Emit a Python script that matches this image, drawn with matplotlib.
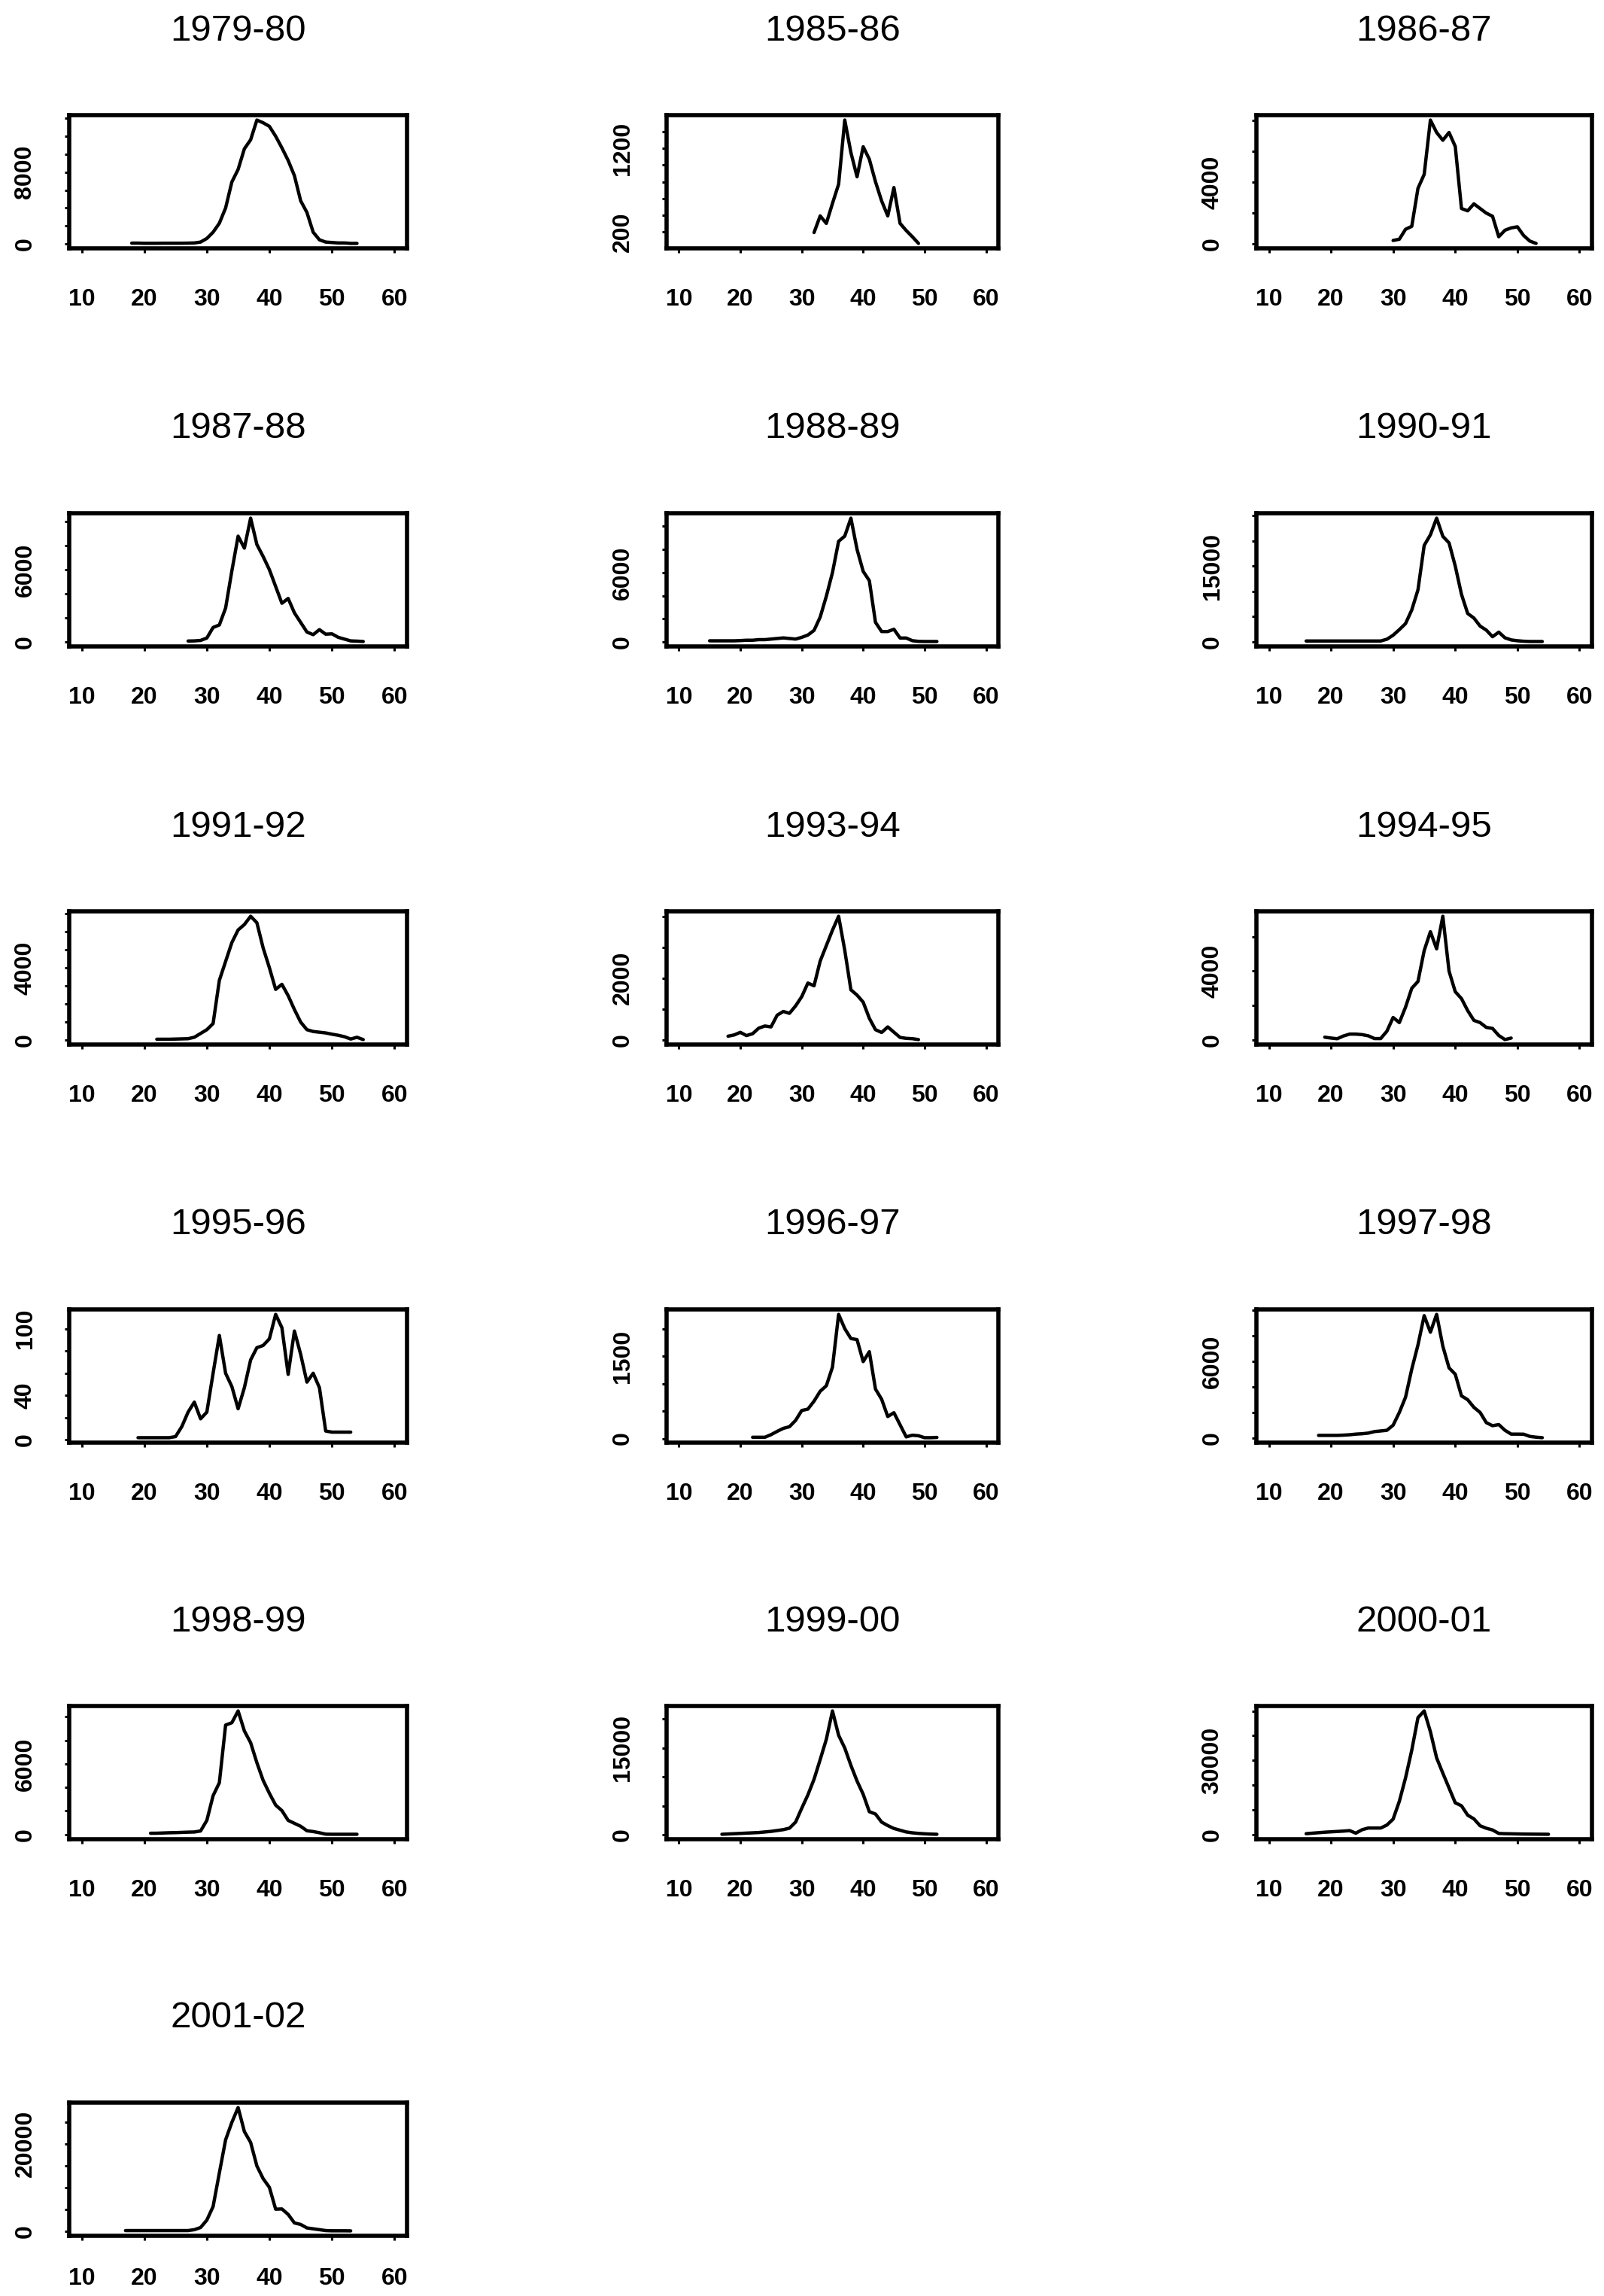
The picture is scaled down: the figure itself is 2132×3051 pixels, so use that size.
import numpy as np
import matplotlib
matplotlib.use('Agg')
import matplotlib.pyplot as plt

plt.rcParams['font.family'] = ['Liberation Sans', 'DejaVu Sans']

W, H, DPI = 2132, 3051, 100

seasons = ["1979-80", "1985-86", "1986-87", "1987-88", "1988-89", "1990-91",
           "1991-92", "1993-94", "1994-95", "1995-96", "1996-97", "1997-98",
           "1998-99", "1999-00", "2000-01", "2001-02"]

# first week of each season's series
start_week = [18, 32, 30, 27, 15, 16, 22, 18, 19, 19, 22, 18, 21, 17, 16, 17]

v1979 = [80, 80, 60, 60, 60, 70, 70, 70, 70, 80, 100, 200, 600, 1300, 2300, 4000, 6900, 8300,
         10600, 11600, 13800, 13500, 13100, 12000, 10700, 9300, 7600, 4800, 3500, 1300, 450,
         200, 150, 100, 100, 50, 50]
v1985 = [190, 390, 300, 540, 770, 1540, 1150, 860, 1220, 1070, 800, 570, 390, 730, 300, 215, 140, 60]
v1986 = [240, 320, 960, 1150, 3600, 4500, 8000, 7200, 6700, 7200, 6300, 2300, 2150, 2600, 2300,
         2000, 1800, 480, 900, 1050, 1120, 560, 200, 50]
v1987 = [50, 60, 100, 300, 1180, 1390, 2800, 5900, 8800, 7800, 10300, 8100, 7100, 6000, 4600,
         3200, 3600, 2400, 1600, 800, 580, 1000, 620, 650, 360, 210, 60, 40, 10]
v1988 = [100, 100, 100, 100, 100, 120, 150, 150, 200, 200, 250, 300, 350, 300, 250, 400, 600,
         1000, 2150, 3950, 6000, 8700, 9150, 10700, 8000, 6100, 5300, 1700, 900, 900, 1100, 340,
         340, 110, 50, 40, 40, 40]
v1990 = [150, 150, 150, 150, 150, 150, 150, 150, 150, 150, 150, 150, 150, 500, 1300, 2400, 3600,
         6300, 10300, 19100, 21200, 24500, 20900, 19600, 15000, 9400, 5600, 4700, 3100, 2300,
         1000, 1900, 780, 360, 200, 100, 50, 50, 50]
v1991 = [30, 30, 30, 40, 50, 60, 140, 350, 560, 900, 3300, 4350, 5400, 6100, 6400, 6860, 6500,
         5100, 4000, 2800, 3080, 2450, 1680, 980, 560, 460, 420, 380, 310, 250, 170, 40, 140, 10]
v1993 = [120, 160, 245, 140, 200, 380, 450, 420, 800, 920, 860, 1100, 1400, 1840, 1750, 2550,
         3050, 3550, 4000, 2900, 1620, 1450, 1220, 700, 330, 240, 420, 250, 80, 50, 40, 10]
v1994 = [150, 100, 60, 220, 330, 330, 300, 230, 70, 70, 500, 1300, 1000, 1900, 3000, 3400, 5200,
         6300, 5300, 7200, 4000, 2800, 2400, 1700, 1130, 1000, 720, 660, 250, 10, 100]
v1995 = [2, 2, 2, 2, 2, 2, 3, 12, 25, 34, 19, 25, 60, 94, 60, 48, 28, 47, 72, 83, 85, 91, 113,
         101, 59, 98, 77, 52, 60, 47, 8, 7, 7, 7, 7]
v1996 = [23, 23, 23, 70, 130, 185, 215, 330, 510, 535, 680, 860, 960, 1300, 2260, 2000, 1820,
         1800, 1400, 1580, 900, 715, 400, 470, 250, 30, 60, 50, 15, 15, 20]
v1997 = [200, 200, 200, 200, 220, 250, 300, 330, 380, 500, 550, 600, 1000, 2000, 3200, 5400,
         7300, 9600, 8300, 9700, 7200, 5500, 5000, 3300, 3000, 2400, 2000, 1200, 960, 1050, 600,
         300, 300, 295, 120, 60, 20]
v1998 = [107, 110, 130, 150, 160, 180, 200, 214, 300, 1200, 3300, 4400, 9300, 9500, 10500, 8800,
         7800, 6100, 4600, 3500, 2500, 2030, 1200, 950, 700, 320, 250, 150, 30, 20, 20, 20, 20, 20]
v1999 = [100, 150, 200, 250, 300, 350, 400, 500, 600, 750, 900, 1150, 2200, 4600, 6900, 9600,
         13000, 16500, 21400, 17200, 15000, 12000, 9300, 7000, 4000, 3600, 2200, 1600, 1100, 800,
         500, 350, 250, 180, 130, 100]
v2000 = [300, 500, 700, 900, 1050, 1200, 1350, 1550, 500, 1900, 2590, 2590, 2590, 3800, 6200,
         13400, 22900, 34100, 47300, 50000, 41600, 31000, 24800, 18800, 12800, 11600, 7800, 6300,
         3500, 2500, 1800, 400, 300, 250, 200, 150, 120, 100, 80, 60]
v2001 = [100, 100, 100, 100, 100, 100, 100, 100, 100, 100, 100, 300, 800, 2500, 5600, 13300,
         20900, 24900, 28300, 22800, 20300, 14900, 12000, 10000, 5000, 5050, 3800, 1850, 1500,
         700, 500, 300, 100, 50, 50, 50, 30]

series = [v1979, v1985, v1986, v1987, v1988, v1990, v1991, v1993, v1994, v1995,
          v1996, v1997, v1998, v1999, v2000, v2001]

x_ticks = [10, 20, 30, 40, 50, 60]
y_tick_step = [2000, 200, 2000, 2000, 2000, 5000, 1000, 1000, 2000, 20, 500, 2000,
               2000, 5000, 10000, 5000]
y_tick_labels = [[0, 8000], [200, 1200], [0, 4000], [0, 6000], [0, 6000], [0, 15000],
                 [0, 4000], [0, 2000], [0, 4000], [0, 40, 100], [0, 1500], [0, 6000],
                 [0, 6000], [0, 15000], [0, 30000], [0, 20000]]

# layout (pixels)
cols_x = [(92, 541), (886, 1327), (1670, 2116)]
rows_top = [153, 682, 1211, 1740, 2267, 2794]
box_h = 177
x_pads = [34, 34, 34, 34, 34, 26]

fig = plt.figure(figsize=(W / DPI, H / DPI), dpi=DPI)
fig.patch.set_facecolor('white')

tick_len = 6 * 72 / DPI

for i, (name, vals) in enumerate(zip(seasons, series)):
    r, c = divmod(i, 3)
    x0, x1 = cols_x[c]
    top = rows_top[r]
    ax = fig.add_axes([x0 / W, 1 - (top + box_h) / H, (x1 - x0) / W, box_h / H])
    x = np.arange(start_week[i], start_week[i] + len(vals))
    y = np.array(vals, dtype=float)
    ax.plot(x, y, color='black', lw=3.2, solid_joinstyle='round', solid_capstyle='round')
    ax.set_xlim(8, 62)
    lo, hi = y.min(), y.max()
    span = hi - lo
    ylo, yhi = lo - 0.04 * span, hi + 0.04 * span
    ax.set_ylim(ylo, yhi)
    step = y_tick_step[i]
    yt = np.arange(np.ceil(ylo / step) * step, yhi + 1e-9, step)
    ax.set_yticks(yt)
    ax.set_yticklabels([str(int(round(v))) if int(round(v)) in y_tick_labels[i] else ''
                        for v in yt], rotation=90, va='center', fontsize=23,
                       fontweight='bold')
    ax.set_xticks(x_ticks)
    ax.set_xticklabels([str(t) for t in x_ticks], fontsize=23, fontweight='bold')
    ax.tick_params(axis='x', direction='out', length=tick_len, width=2.2, pad=x_pads[r])
    ax.tick_params(axis='y', direction='out', length=tick_len, width=2.2, pad=27)
    for sp in ax.spines.values():
        sp.set_linewidth(4.0)
    ax.text(0.5, 1 + 112 / box_h, name, transform=ax.transAxes, ha='center',
            va='center', fontsize=35.5)

fig.savefig('out.png', dpi=DPI, facecolor='white')
